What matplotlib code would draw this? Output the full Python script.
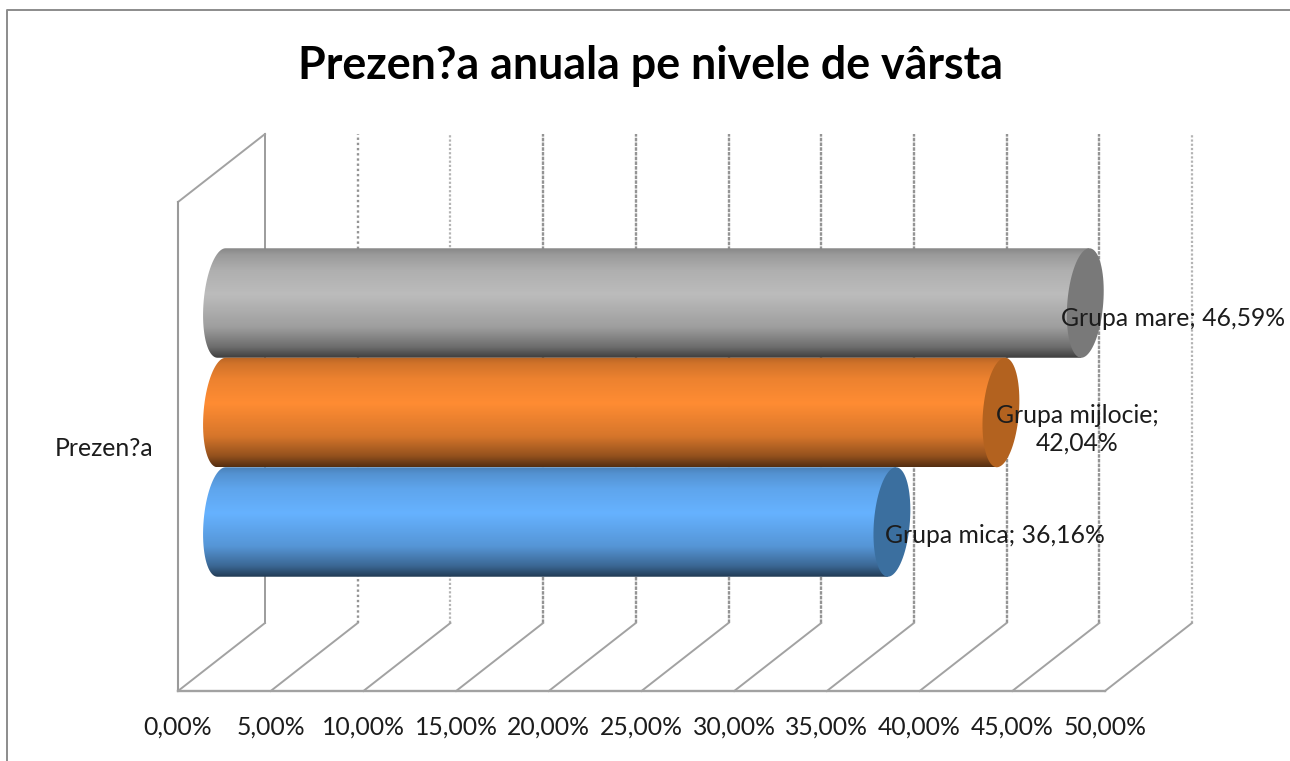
import numpy as np
import matplotlib
matplotlib.use("Agg")
import matplotlib.pyplot as plt
from matplotlib.colors import LinearSegmentedColormap
from matplotlib.lines import Line2D
from matplotlib.patches import Polygon

plt.rcParams['font.family'] = ['Lato', 'DejaVu Sans']

# date
title = "Prezen?a anuala pe nivele de vârsta"
category = "Prezen?a"
series_names = ["Grupa mica", "Grupa mijlocie", "Grupa mare"]
series_values = [36.16, 42.04, 46.59]
tick_values = [0, 5, 10, 15, 20, 25, 30, 35, 40, 45, 50]
tick_labels = ["0,00%", "5,00%", "10,00%", "15,00%", "20,00%", "25,00%",
               "30,00%", "35,00%", "40,00%", "45,00%", "50,00%"]

# culori
light_colors = ["#66b2ff", "#ff8c33", "#bcbcbc"]
cap_colors = ["#3b6f9f", "#b3621f", "#797979"]
label_text = ["Grupa mica; 36,16%", "Grupa mijlocie;\n42,04%", "Grupa mare; 46,59%"]
label_dx = [7.9, 6.45, 7.08]
label_dy = [-0.12, -0.155, -0.146]

W, H = 1290, 761
DEPTH_X = 87 / 18.54     # adancimea 3D in unitati de procent
DEPTH_Y = 68 / 109.5     # adancimea 3D in inaltimi de bara
GRID = "#949494"
GRID_LIGHT = "#b4b4b4"
TEXT = "#1c1c1c"


def shade(color, f):
    c = np.array(matplotlib.colors.to_rgb(color))
    return tuple(c * f)


fig = plt.figure(figsize=(W / 100, H / 100), dpi=100, facecolor="white")
# chenarul: doar sus si in stanga
fig.add_artist(Line2D([7 / W, 7 / W, 1], [0, 1 - 10 / H, 1 - 10 / H],
                      transform=fig.transFigure, color="#8c8c8c", lw=1.4, zorder=-1))
ax = fig.add_axes([178 / W, 1 - 691 / H, (1105 - 178) / W, (691 - 202) / H])
ax.patch.set_alpha(0)
xlim = (0, 50)
ylim = (-2.233, 2.233)

# pereti si grila
for i, v in enumerate(tick_values):
    if i == 0:
        ls, col, lw = "-", GRID, 1.3
    elif i == 1:
        ls, col, lw = (0, (1, 1.2)), GRID, 1.7
    elif i in (2, 10):
        ls, col, lw = (0, (1, 0.9)), GRID_LIGHT, 1.6
    else:
        ls, col, lw = (0, (1.5, 0.5)), GRID, 1.7
    ax.plot([v + DEPTH_X] * 2, [ylim[0] + DEPTH_Y, ylim[1] + DEPTH_Y], color=col,
            lw=lw, ls=ls, clip_on=False, zorder=1)
    ax.plot([v, v + DEPTH_X], [ylim[0], ylim[0] + DEPTH_Y], color="#a2a2a2", lw=1.4,
            clip_on=False, zorder=1)
ax.plot([0, DEPTH_X], [ylim[1], ylim[1] + DEPTH_Y], color="#a2a2a2", lw=1.4, clip_on=False, zorder=1)
ax.plot([0, 0], ylim, color="#9a9a9a", lw=1.5, clip_on=False, zorder=1)
ax.plot([0, 50], [ylim[0]] * 2, color="#a2a2a2", lw=1.7, clip_on=False, zorder=1)

# cilindri
a, skew = 0.97, 0.22
for i in [2, 1, 0]:
    val = series_values[i]
    y = (i - 1) + DEPTH_Y / 2
    x0 = DEPTH_X / 2
    x1 = val + DEPTH_X / 2
    t = np.linspace(np.pi / 2, 3 * np.pi / 2, 40)
    left = np.column_stack([x0 + a * np.cos(t) + skew * np.sin(t), y + 0.5 * np.sin(t)])
    right = np.array([[x1 - skew, y - 0.5], [x1 + skew, y + 0.5]])
    body = Polygon(np.vstack([left, right]), closed=True, transform=ax.transData,
                   fc="none", ec="none")
    ax.add_patch(body)

    base = light_colors[i]
    cmap = LinearSegmentedColormap.from_list("cyl", [
        (0.0, shade(base, 0.72)), (0.06, shade(base, 0.82)), (0.2, shade(base, 0.93)),
        (0.42, shade(base, 1.0)), (0.72, shade(base, 0.84)), (0.9, shade(base, 0.58)),
        (1.0, shade(base, 0.33))])
    img = ax.imshow(np.linspace(0, 1, 256).reshape(-1, 1), cmap=cmap, aspect="auto",
                    extent=(x0 - a - skew, x1 + skew, y - 0.5, y + 0.5), origin="upper",
                    zorder=2 + (2 - i) * 0.1)
    img.set_clip_path(body)

    t = np.linspace(0, 2 * np.pi, 80)
    cap = np.column_stack([x1 + a * np.cos(t) + skew * np.sin(t), y + 0.5 * np.sin(t)])
    ax.add_patch(Polygon(cap, closed=True, fc=cap_colors[i], ec="none", clip_on=False,
                         zorder=2.05 + (2 - i) * 0.1))

    ax.text(val + label_dx[i], (i - 1) + DEPTH_Y / 2 + label_dy[i], label_text[i],
            ha="center", va="center", fontsize=17.8, color=TEXT, linespacing=1.25,
            clip_on=False, zorder=5)

ax.set_xlim(xlim)
ax.set_ylim(ylim)
ax.set_xticks(tick_values, tick_labels, fontsize=17.8, color=TEXT)
ax.set_yticks([0], [category], fontsize=17.8, color=TEXT)
ax.tick_params(axis="x", length=0, pad=18)
ax.tick_params(axis="y", length=0, pad=18)
for s in ax.spines.values():
    s.set_visible(False)

fig.text(650 / W, 1 - 66 / H, title, ha="center", va="center", fontsize=32.2,
         fontweight="bold", color="black")

fig.savefig("out.png", dpi=100)
